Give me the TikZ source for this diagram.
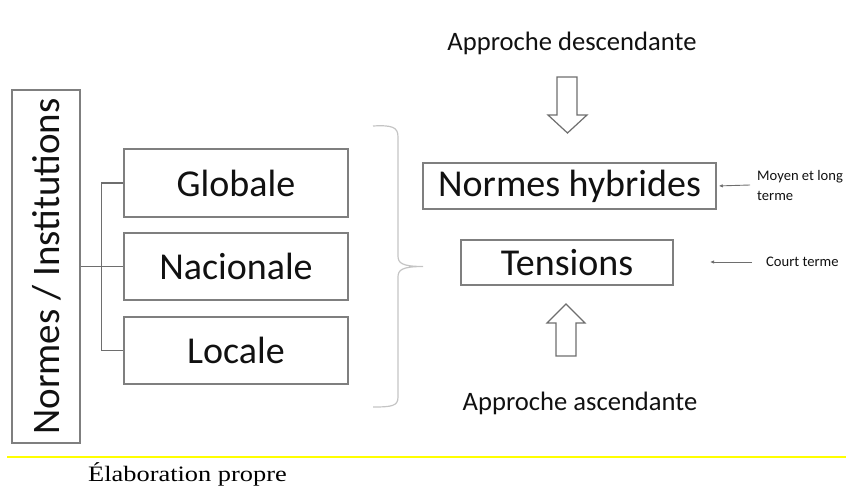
\documentclass[tikz,border=0pt]{standalone}
\usepackage{fontspec}
\setmainfont{Carlito}
\newfontfamily\timesf{Liberation Serif}
\usetikzlibrary{arrows.meta}
\definecolor{boxgray}{HTML}{7F7F7F}
\definecolor{linegray}{HTML}{6E6E6E}
\definecolor{bracegray}{HTML}{C4C4C4}
\definecolor{txt}{HTML}{111111}
\definecolor{yel}{HTML}{FFFF00}
\tikzset{
  box/.style={draw=boxgray, line width=1.5pt, inner sep=0pt, text=txt,
              font=\fontsize{38}{44}\selectfont},
  conn/.style={draw=linegray, line width=1.3pt},
  blockarrow/.style={draw=linegray, line width=1.2pt, fill=white, line join=miter},
  smallarrow/.style={draw=linegray, line width=0.9pt, -{Latex[length=4pt,width=3.5pt]}},
  heading/.style={text=txt, font=\fontsize{26.6}{30}\selectfont, inner sep=0pt},
  note/.style={text=txt, font=\fontsize{14.6}{20}\selectfont, inner sep=0pt, align=left},
}
\begin{document}
\begin{tikzpicture}[x=1pt,y=-1pt]
\useasboundingbox (0,0) rectangle (846,486);
% left vertical box
\node[box, minimum width=68pt, minimum height=353pt] (ni) at (46,266.5) {};
\node[text=txt, font=\fontsize{39}{44}\selectfont, rotate=90, inner sep=0pt] (nit) at (47,266.5) {Normes / Institutions};
% level boxes
\node[box, minimum width=224pt, minimum height=68pt] (glo) at (236,183) {Globale};
\node[box, minimum width=224pt, minimum height=67pt] (nac) at (236,266.5) {Nacionale};
\node[box, minimum width=224pt, minimum height=67pt] (loc) at (236,350.5) {Locale};
% connectors
\draw[conn] (ni.east) -- (nac.west);
\draw[conn] (glo.west) -- ++(-22,0) |- (loc.west);
% brace
\coordinate (btip) at (423,266.5);
\draw[draw=bracegray, line width=1.2pt]
  (373,126) .. controls (392,125) and (398,127) .. (398,137)
  -- (398,256) .. controls (398,263) and (402,266.5) .. (btip)
  .. controls (402,266.5) and (398,270) .. (398,277)
  -- (398,397) .. controls (398,406) and (392,407) .. (373,407);
% right side
\node[heading] (desc) at (572,43) {Approche descendante};
\node[box, minimum width=293pt, minimum height=46pt] (nh) at (569.5,186) {Normes hybrides};
\node[box, minimum width=212pt, minimum height=45pt] (ten) at (567,262.5) {Tensions};
\node[heading] (asc) at (580,403) {Approche ascendante};
% block arrows
\draw[blockarrow] (557,77) -- (577,77) -- (577,115) -- (587,115) -- (567.5,133)
  -- (548,115) -- (557,115) -- cycle;
\draw[blockarrow] (556,356) -- (576,356) -- (576,323) -- (585,323) -- (566,304)
  -- (547,323) -- (556,323) -- cycle;
% notes
\node[note, anchor=west] (ml) at (757,185) {Moyen et long\\terme};
\node[note, anchor=west] (ct) at (766,262) {Court terme};
\coordinate (mls) at (750,185);
\coordinate (cts) at (752,262);
\coordinate (cte) at (710,262);
\draw[smallarrow, shorten >=2pt] (mls) -- (nh.east);
\draw[smallarrow] (cts) -- (cte);
% footer
\coordinate (yl) at (7,457);
\coordinate (yr) at (846,457);
\draw[draw=yel, line width=1.2pt] (yl) -- (yr);
\node[anchor=base west, inner sep=0pt, text=black] (src) at (88,481)
  {\timesf\fontsize{22}{26}\selectfont\scalebox{1.2}[1]{Élaboration propre}};
\end{tikzpicture}
\end{document}
